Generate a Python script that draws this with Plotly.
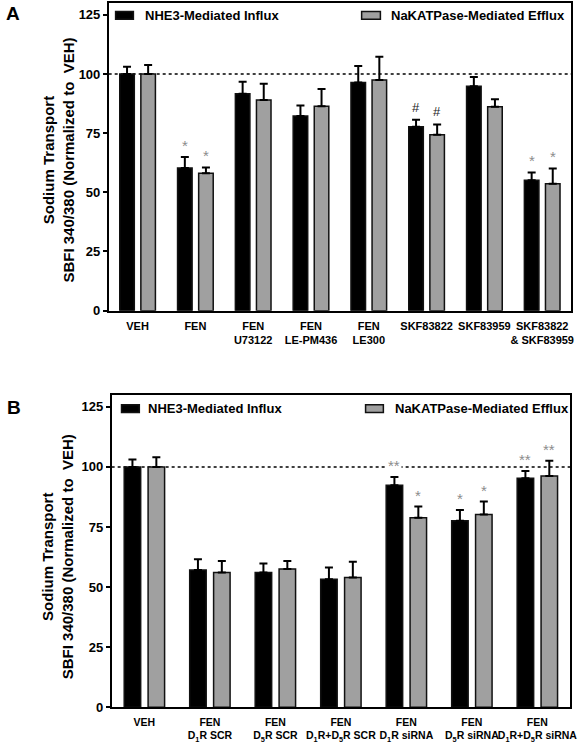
import plotly.graph_objects as go

W, H = 586, 750

# ---------------- data: panel A ----------------
cats_a = ["VEH", "FEN", "FEN<br>U73122", "FEN<br>LE-PM436", "FEN<br>LE300",
          "SKF83822", "SKF83959", "SKF83822<br>& SKF83959"]
nhe3_a = [100, 60.3, 91.6, 82.2, 96.4, 77.7, 94.8, 55.1]
nhe3_a_err = [3.1, 4.6, 5.1, 4.5, 7.0, 3.0, 3.9, 3.3]
nka_a = [100, 58.1, 89.0, 86.4, 97.5, 74.3, 86.2, 53.6]
nka_a_err = [3.8, 2.4, 6.9, 7.2, 9.8, 4.4, 3.1, 6.5]
sig_nhe3_a = ["", "*", "", "", "", "#", "", "*"]
sig_nka_a = ["", "*", "", "", "", "#", "", "*"]

# ---------------- data: panel B ----------------
cats_b = ["VEH",
          "FEN<br>D<sub>1</sub>R SCR",
          "FEN<br>D<sub>5</sub>R SCR",
          "FEN<br>D<sub>1</sub>R+D<sub>5</sub>R SCR",
          "FEN<br>D<sub>1</sub>R siRNA",
          "FEN<br>D<sub>5</sub>R siRNA",
          "FEN<br>D<sub>1</sub>R+D<sub>5</sub>R siRNA"]
nhe3_b = [100, 57.1, 56.1, 53.3, 92.4, 77.6, 95.3]
nhe3_b_err = [3.1, 4.5, 3.7, 4.9, 3.4, 4.5, 3.0]
nka_b = [100, 56.1, 57.5, 54.0, 78.9, 80.2, 96.2]
nka_b_err = [4.0, 4.8, 3.4, 6.6, 4.6, 5.4, 6.4]
sig_nhe3_b = ["", "", "", "", "**", "*", "**"]
sig_nka_b = ["", "", "", "", "*", "*", "**"]

series_names = ["NHE3-Mediated Influx", "NaKATPase-Mediated Efflux"]
y_ticks = [0, 25, 50, 75, 100, 125]
ref_level = 100
panel_letters = ["A", "B"]
y_title = "Sodium Transport<br>SBFI 340/380 (Normalized to&nbsp; VEH)"

# ---------------- style ----------------
FONT = "Arial, Liberation Sans, Helvetica, sans-serif"
BLACK = "#000000"
GRAY = "#a0a0a0"
STAR = "#8c8c8c"
BARGAP = 0.27
BGG = 0.31


def px(x):
    return x / W


def py(y):
    return 1 - y / H


# plot-area geometry (pixels)
geo = {
    "A": dict(x0=110, x1=578, y0=3, y1=314, legend_y=15.5, tick_size=11,
              leg=[(117, 135, 145), (366, 385, 394)], title_y=162, letter=(13, 14)),
    "B": dict(x0=113, x1=577, y0=399, y1=715, legend_y=413, tick_size=10.5,
              leg=[(123, 141, 148), (370, 388, 398)], title_y=563, letter=(14, 411.5)),
}

fig = go.Figure()

panels = [
    ("A", "x", "y", cats_a, nhe3_a, nhe3_a_err, nka_a, nka_a_err, sig_nhe3_a, sig_nka_a),
    ("B", "x2", "y2", cats_b, nhe3_b, nhe3_b_err, nka_b, nka_b_err, sig_nhe3_b, sig_nka_b),
]

annotations = []
shapes = []

for key, xa, ya, cats, v1, e1, v2, e2, s1, s2 in panels:
    g = geo[key]
    for name, vals, errs, color in [(series_names[0], v1, e1, BLACK),
                                    (series_names[1], v2, e2, GRAY)]:
        fig.add_trace(go.Bar(
            x=cats, y=vals, name=name, xaxis=xa, yaxis=ya, showlegend=False,
            marker=dict(color=color, line=dict(color="#111111", width=1.5)),
            error_y=dict(type="data", array=errs, arrayminus=[0] * len(errs),
                         symmetric=False, color="#000000", thickness=2, width=4),
        ))

    # significance marks
    group_px = (g["x1"] - g["x0"]) / len(cats)
    shift = (1 - BARGAP) / 4 * group_px
    for vals, errs, sigs, sgn in [(v1, e1, s1, -1), (v2, e2, s2, 1)]:
        for c, v, e, s in zip(cats, vals, errs, sigs):
            if not s:
                continue
            top = v + e
            is_hash = s == "#"
            crosses = key == "B" and top < ref_level and top + 6 > ref_level and s == "**" and v < 94
            ann = dict(
                x=c, y=top, xref=xa, yref=ya, text=s, showarrow=False,
                xshift=sgn * shift, yshift=1 if not is_hash else 3, yanchor="bottom",
                font=dict(family=FONT, size=13 if is_hash else 15,
                          color="#222222" if is_hash else STAR),
                borderpad=1,
            )
            if crosses:
                ann["bgcolor"] = "white"
            annotations.append(ann)

    # dotted reference line
    shapes.append(dict(type="line", xref=f"{xa} domain", yref=ya, x0=0, x1=1,
                       y0=ref_level, y1=ref_level, layer="below",
                       line=dict(color="black", width=1.5, dash="dot")))

    # legend (drawn manually)
    ly = g["legend_y"]
    for (rx0, rx1, tx), name, color in zip(g["leg"], series_names, [BLACK, GRAY]):
        shapes.append(dict(type="rect", xref="paper", yref="paper",
                           x0=px(rx0), x1=px(rx1), y0=py(ly + 4), y1=py(ly - 4),
                           fillcolor=color, line=dict(color="#111111", width=1.5)))
        annotations.append(dict(x=px(tx), y=py(ly), xref="paper", yref="paper",
                                text="<b>" + name + "</b>", showarrow=False,
                                xanchor="left", yanchor="middle",
                                font=dict(family=FONT, size=13, color="black")))

    # y title
    annotations.append(dict(x=px(59), y=py(g["title_y"]), xref="paper", yref="paper",
                            text="<b>" + y_title + "</b>", showarrow=False, textangle=-90,
                            xanchor="center", yanchor="middle",
                            font=dict(family=FONT, size=15, color="black")))
    # panel letter
    lx, lyy = g["letter"]
    annotations.append(dict(x=px(lx), y=py(lyy), xref="paper", yref="paper",
                            text="<b>" + (panel_letters[0] if key == "A" else panel_letters[1]) + "</b>",
                            showarrow=False, xanchor="center", yanchor="middle",
                            font=dict(family=FONT, size=19, color="black")))

axis_common = dict(showline=True, linecolor="black", linewidth=1.5, mirror=True,
                   showgrid=False, zeroline=False)

layout_axes = {}
for key, xa, ya, cats in [("A", "xaxis", "yaxis", cats_a), ("B", "xaxis2", "yaxis2", cats_b)]:
    g = geo[key]
    layout_axes[xa] = dict(axis_common, domain=[px(g["x0"]), px(g["x1"])],
                           anchor="y" if key == "A" else "y2",
                           type="category", ticks="", tickangle=0, ticklabelstandoff=4,
                           tickfont=dict(family=FONT, size=g["tick_size"], color="black",
                                         weight="bold"))
    layout_axes[ya] = dict(axis_common, domain=[py(g["y1"]), py(g["y0"])],
                           anchor="x" if key == "A" else "x2",
                           range=[0, 130], tickvals=y_ticks, ticks="outside",
                           ticklen=4, tickwidth=1.5, tickcolor="black",
                           tickfont=dict(family=FONT, size=13, color="black", weight="bold"))

fig.update_layout(
    width=W, height=H, margin=dict(l=0, r=0, t=0, b=0),
    paper_bgcolor="white", plot_bgcolor="white",
    barmode="group", bargap=BARGAP, bargroupgap=BGG,
    font=dict(family=FONT, color="black"),
    annotations=annotations, shapes=shapes,
    **layout_axes,
)

fig.write_html("out.html", config={"displayModeBar": False},
               post_script="document.body.style.margin='0';document.body.style.overflow='hidden';")
